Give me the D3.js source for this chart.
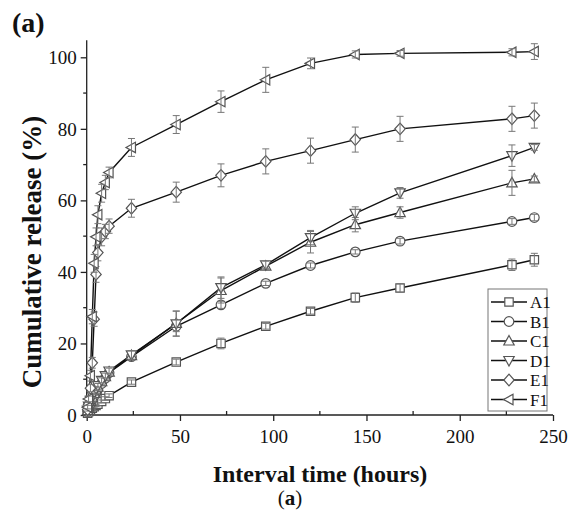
<!DOCTYPE html>
<html lang="en">
<head>
    <meta charset="UTF-8">
    <title>Cumulative release</title>
    <script src="https://d3js.org/d3.v7.min.js"></script>
    <style>
        body { margin: 0; background: #fff; }
        svg text { font-family: "Liberation Serif", "Times New Roman", serif; fill: #111; }
        .axis path, .axis line { stroke: #222; stroke-width: 1.3; }
        .title { font-weight: bold; font-size: 24px; }
        .err { stroke: #777; stroke-width: 1; fill: none; }
        .curve { stroke: #111; stroke-width: 1.4; fill: none; }
        .mark { fill: #fff; stroke: #555; stroke-width: 1.2; }
    </style>
</head>
<body>
    <svg width="568" height="515"></svg>
    <script>
        // data
        var times = [0.5, 1, 2, 3, 4, 5, 6, 8, 10, 12, 24, 48, 72, 96, 120, 144, 168, 228, 240];
        var names = ["A1", "B1", "C1", "D1", "E1", "F1"];
        var symbols = ["square", "circle", "up", "down", "diamond", "left"];

        var A1 = [0.5, 0.9, 1.4, 1.9, 2.3, 2.7, 3.0, 3.8, 4.6, 5.4, 9.2, 14.8, 20.0, 24.8, 29.0, 32.8, 35.5, 42.0, 43.4];
        var B1 = [1.0, 1.8, 3.2, 4.4, 5.4, 6.3, 7.2, 8.8, 10.3, 11.8, 16.3, 24.8, 30.8, 36.8, 41.8, 45.6, 48.6, 54.1, 55.2];
        var C1 = [1.2, 2.2, 3.8, 5.0, 6.0, 7.0, 7.8, 9.3, 10.7, 12.0, 16.6, 25.6, 34.8, 41.6, 48.3, 53.2, 56.6, 64.9, 66.0];
        var D1 = [1.4, 2.5, 4.1, 5.4, 6.4, 7.4, 8.2, 9.7, 11.0, 12.3, 16.8, 25.5, 35.6, 42.0, 49.6, 56.4, 62.1, 72.5, 74.8];
        var E1 = [1.5, 3.0, 7.5, 14.6, 26.8, 39.3, 45.4, 49.8, 51.3, 52.8, 57.8, 62.3, 67.0, 70.9, 73.9, 77.0, 80.0, 82.8, 83.7];
        var F1 = [2.2, 4.5, 11.0, 27.5, 42.4, 49.8, 56.0, 62.0, 65.0, 67.8, 74.8, 81.2, 87.6, 93.7, 98.3, 100.8, 101.1, 101.4, 101.6];

        var A1err = [0.2, 0.2, 0.3, 0.3, 0.3, 0.3, 0.4, 0.4, 0.5, 0.5, 0.6, 0.8, 1.5, 0.8, 0.8, 1.3, 1.2, 1.6, 1.8];
        var B1err = [0.3, 0.3, 0.4, 0.4, 0.5, 0.5, 0.5, 0.6, 0.6, 0.7, 1.0, 1.5, 1.0, 0.6, 0.7, 0.6, 0.8, 0.8, 0.9];
        var C1err = [0.3, 0.4, 0.5, 0.5, 0.6, 0.6, 0.6, 0.7, 0.7, 0.8, 1.2, 3.5, 3.5, 1.0, 3.0, 2.0, 1.6, 3.5, 0.8];
        var D1err = [0.3, 0.4, 0.5, 0.5, 0.6, 0.6, 0.6, 0.7, 0.7, 0.8, 1.2, 3.5, 3.0, 1.0, 2.0, 1.8, 1.5, 3.0, 0.8];
        var E1err = [0.4, 0.5, 1.0, 1.5, 2.0, 2.2, 2.3, 2.5, 2.0, 2.0, 2.5, 2.8, 3.2, 3.5, 3.5, 3.5, 3.5, 3.5, 3.5];
        var F1err = [0.5, 0.8, 1.5, 2.0, 2.5, 2.5, 2.5, 2.5, 2.0, 1.5, 2.5, 2.5, 3.0, 3.5, 1.5, 1.0, 0.8, 1.0, 2.2];

        var xTicks = [0, 50, 100, 150, 200, 250];
        var yTicks = [0, 20, 40, 60, 80, 100];

        var values = [A1, B1, C1, D1, E1, F1];
        var errs = [A1err, B1err, C1err, D1err, E1err, F1err];

        var series = names.map(function (n, i) {
            return {
                name: n,
                symbol: symbols[i],
                points: times.map(function (t, j) {
                    return {t: t, v: values[i][j], e: errs[i][j]};
                })
            };
        });

        var serif = '"Liberation Serif", "Times New Roman", serif';
        var svg = d3.select("svg");
        var x = d3.scaleLinear().domain([0, 250]).range([86.7, 553]);
        var y = d3.scaleLinear().domain([0, 100]).range([415, 57.3]);

        // marker path centred on 0,0
        function marker(sym) {
            switch (sym) {
                case "square": return "M-4.2,-4.2H4.2V4.2H-4.2Z";
                case "circle": return "M4.8,0A4.8,4.8 0 1,1 -4.8,0A4.8,4.8 0 1,1 4.8,0Z";
                case "up": return "M0,-5.5L5.2,4H-5.2Z";
                case "down": return "M0,5.5L5.2,-4H-5.2Z";
                case "diamond": return "M0,-5.8L5.2,0L0,5.8L-5.2,0Z";
                case "left": return "M-5.5,0L4,-5.2V5.2Z";
            }
        }

        // axes
        var gx = svg.append("g")
            .attr("class", "axis")
            .attr("transform", "translate(0," + y(0) + ")")
            .call(d3.axisBottom(x).tickValues(xTicks).tickSize(6).tickSizeOuter(0).tickPadding(9));
        gx.selectAll(".minor")
            .data([25, 75, 125, 175, 225])
            .enter().append("line")
            .attr("class", "minor")
            .attr("x1", function (d) { return x(d); })
            .attr("x2", function (d) { return x(d); })
            .attr("y1", 0).attr("y2", -4);

        var gy = svg.append("g")
            .attr("class", "axis")
            .attr("transform", "translate(" + x(0) + ",0)")
            .call(d3.axisLeft(y).tickValues(yTicks).tickSize(6).tickSizeOuter(0).tickPadding(4));
        gy.select(".domain").attr("d", "M0," + y(0) + "V" + y(104.8));
        gx.select(".domain").attr("d", "M" + x(0) + ",0H" + x(250));
        gy.selectAll(".minor")
            .data([10, 30, 50, 70, 90])
            .enter().append("line")
            .attr("class", "minor")
            .attr("y1", function (d) { return y(d); })
            .attr("y2", function (d) { return y(d); })
            .attr("x1", 0).attr("x2", -3.5);

        svg.selectAll(".axis").attr("font-family", null).attr("font-size", null);
        svg.selectAll(".axis text")
            .style("font-family", serif)
            .style("font-size", "19px")
            .style("fill", "#111");
        gy.selectAll(".tick text").attr("dy", "0.34em");

        var line = d3.line()
            .x(function (d) { return x(d.t); })
            .y(function (d) { return y(d.v); });

        var g = svg.append("g");
        series.forEach(function (s) {
            g.append("path").attr("class", "curve").attr("d", line(s.points));
        });
        series.forEach(function (s) {
            var sg = g.append("g");
            sg.selectAll(".mark")
                .data(s.points)
                .enter().append("path")
                .attr("class", "mark")
                .attr("transform", function (d) { return "translate(" + x(d.t) + "," + y(d.v) + ")"; })
                .attr("d", marker(s.symbol));
            sg.selectAll(".err")
                .data(s.points)
                .enter().append("path")
                .attr("class", "err")
                .attr("d", function (d) {
                    var cx = x(d.t), top = y(d.v + d.e), bot = y(d.v - d.e);
                    return "M" + cx + "," + top + "V" + bot +
                        "M" + (cx - 3.5) + "," + top + "H" + (cx + 3.5) +
                        "M" + (cx - 3.5) + "," + bot + "H" + (cx + 3.5);
                });
        });

        // legend
        var lg = svg.append("g");
        lg.append("rect")
            .attr("x", 488).attr("y", 289).attr("width", 59).attr("height", 122)
            .attr("fill", "#fff").attr("stroke", "#777").attr("stroke-width", 1);
        series.forEach(function (s, i) {
            var ly = 302 + i * 19.5;
            lg.append("line")
                .attr("x1", 491).attr("x2", 527).attr("y1", ly).attr("y2", ly)
                .attr("stroke", "#111").attr("stroke-width", 1.4);
            lg.append("path")
                .attr("class", "mark")
                .attr("transform", "translate(509," + ly + ")")
                .attr("d", marker(s.symbol));
            lg.append("text")
                .attr("x", 530).attr("y", ly + 6)
                .style("font-size", "17px")
                .text(s.name);
        });

        // titles
        svg.append("text")
            .attr("class", "title")
            .attr("x", 320).attr("y", 482)
            .attr("text-anchor", "middle")
            .text("Interval time (hours)");
        svg.append("text")
            .attr("class", "title")
            .attr("transform", "translate(41,252) rotate(-90)")
            .attr("text-anchor", "middle")
            .style("font-size", "27px")
            .text("Cumulative release (%)");
        svg.append("text")
            .attr("x", 12).attr("y", 32)
            .style("font-size", "28px").style("font-weight", "bold")
            .text("(a)");
        var cap = svg.append("text")
            .attr("x", 290).attr("y", 505)
            .attr("text-anchor", "middle")
            .style("font-size", "21px");
        cap.append("tspan").text("(");
        cap.append("tspan").style("font-weight", "bold").text("a");
        cap.append("tspan").text(")");
    </script>
</body>
</html>
